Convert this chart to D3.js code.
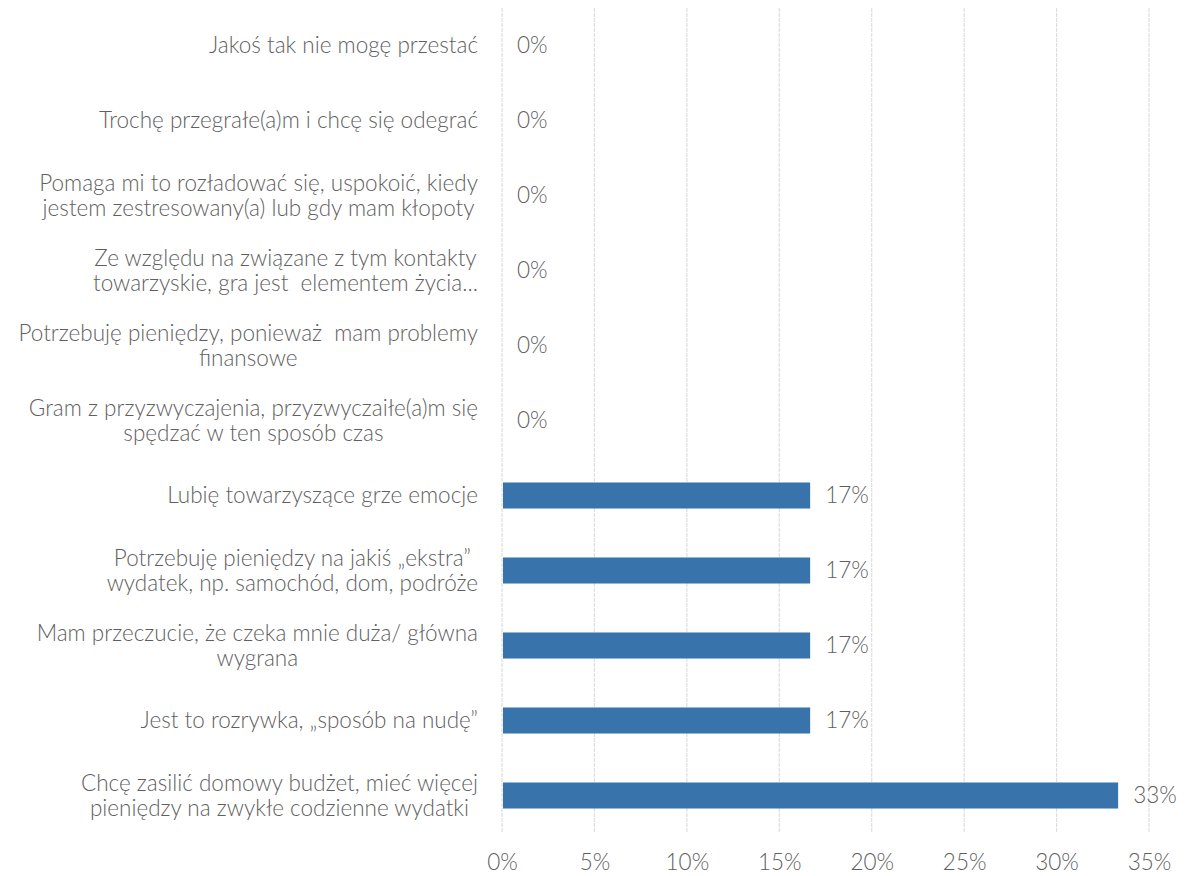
<!DOCTYPE html>
<html>
<head>
<meta charset="utf-8">
<script src="https://cdn.jsdelivr.net/npm/d3@7"></script>
<style>
  html, body { margin: 0; padding: 0; background: #fff; }
  svg text { font-family: "Lato", "Carlito", "Open Sans", sans-serif; font-weight: 300; fill: #5f5f5f; white-space: pre; }
</style>
</head>
<body>
<svg id="chart" width="1190" height="876"></svg>
<script>
const categories = [
  "Jakoś tak nie mogę przestać",
  "Trochę przegrałe(a)m i chcę się odegrać",
  "Pomaga mi to rozładować się, uspokoić, kiedy\njestem zestresowany(a) lub gdy mam kłopoty",
  "Ze względu na związane z tym kontakty\ntowarzyskie, gra jest  elementem życia...",
  "Potrzebuję pieniędzy, ponieważ  mam problemy\nfinansowe",
  "Gram z przyzwyczajenia, przyzwyczaiłe(a)m się\nspędzać w ten sposób czas",
  "Lubię towarzyszące grze emocje",
  "Potrzebuję pieniędzy na jakiś „ekstra”\nwydatek, np. samochód, dom, podróże",
  "Mam przeczucie, że czeka mnie duża/ główna\nwygrana",
  "Jest to rozrywka, „sposób na nudę”",
  "Chcę zasilić domowy budżet, mieć więcej\npieniędzy na zwykłe codzienne wydatki"
];
const values = [0, 0, 0, 0, 0, 0, 16.67, 16.67, 16.67, 16.67, 33.33];
const valueLabels = ["0%", "0%", "0%", "0%", "0%", "0%", "17%", "17%", "17%", "17%", "33%"];
const tickValues = [0, 5, 10, 15, 20, 25, 30, 35];
const tickLabels = ["0%", "5%", "10%", "15%", "20%", "25%", "30%", "35%"];

const svg = d3.select("#chart");
const FONT = 22.5;

const x = d3.scaleLinear().domain([0, 35]).range([502, 1149]);
const y = d3.scaleBand().domain(categories).range([8, 833]).paddingInner(0.653).paddingOuter(0.3265);

// gridlines
svg.append("g").selectAll("line").data(tickValues).join("line")
  .attr("x1", d => x(d)).attr("x2", d => x(d))
  .attr("y1", 8).attr("y2", 833)
  .attr("stroke", "#dedede").attr("stroke-width", 1.2)
  .attr("stroke-dasharray", "4,1");

// x axis labels
const xAxis = d3.axisBottom(x).tickValues(tickValues)
  .tickFormat((d, i) => tickLabels[i]).tickSize(0).tickPadding(0);
const gx = svg.append("g").attr("transform", "translate(0,854)").call(xAxis);
gx.select(".domain").remove();
gx.selectAll("text").attr("font-size", FONT).attr("dy", "0.7em")
  .attr("font-family", null);

// bars
svg.append("g").selectAll("rect").data(values).join("rect")
  .attr("x", x(0) + 1)
  .attr("y", (d, i) => y(categories[i]))
  .attr("width", d => Math.max(0, x(d) - x(0) - 1))
  .attr("height", y.bandwidth())
  .attr("fill", "#3874AB");

// value labels
svg.append("g").selectAll("text").data(values).join("text")
  .attr("x", d => x(d) + 15)
  .attr("y", (d, i) => y(categories[i]) + y.bandwidth() / 2)
  .attr("dy", "0.35em")
  .attr("font-size", FONT)
  .text((d, i) => valueLabels[i]);

// category labels (multi-line, lines centered within a right-aligned block)
const labelRight = 478;
const lineH = 25;
categories.forEach((c) => {
  const lines = c.split("\n");
  const cy = y(c) + y.bandwidth() / 2;
  const g = svg.append("g");
  const texts = lines.map((ln, j) => g.append("text")
    .attr("font-size", FONT)
    .attr("y", cy + (j - (lines.length - 1) / 2) * lineH)
    .attr("dy", "0.35em")
    .attr("text-anchor", "middle")
    .text(ln));
  const maxW = d3.max(texts, t => t.node().getComputedTextLength());
  texts.forEach(t => t.attr("x", labelRight - maxW / 2));
});
</script>
</body>
</html>
